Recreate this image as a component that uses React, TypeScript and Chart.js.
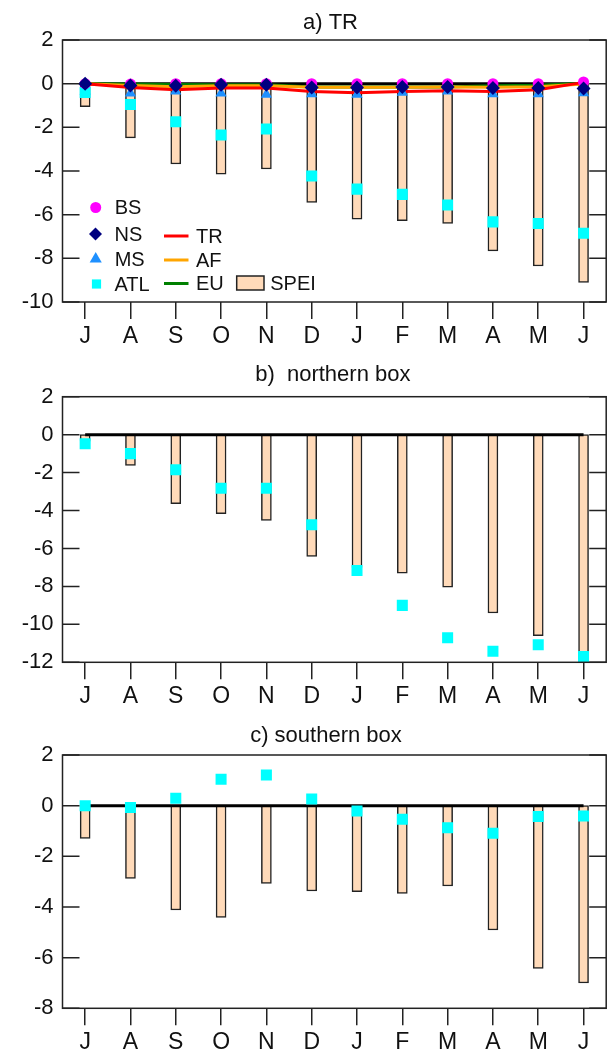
import React, { useEffect, useRef } from 'react';
import { Chart, registerables } from 'chart.js';
import { drawPoint } from 'chart.js/helpers';

Chart.register(...registerables);

const FONT = '"Liberation Sans", Arial, Helvetica, sans-serif';
Chart.defaults.font.family = FONT;

// ---------- data ----------
const months = ['J', 'A', 'S', 'O', 'N', 'D', 'J', 'F', 'M', 'A', 'M', 'J'];

// a) TR
const speiTR = [-1.05, -2.48, -3.68, -4.14, -3.91, -5.44, -6.21, -6.27, -6.4, -7.66, -8.35, -9.1];
const atlTR = [-0.4, -0.95, -1.74, -2.35, -2.08, -4.23, -4.83, -5.07, -5.56, -6.33, -6.4, -6.85];
const msTR = [-0.35, -0.44, -0.35, -0.44, -0.5, -0.47, -0.5, -0.4, -0.35, -0.47, -0.47, -0.43];
const nsTR = [0, -0.08, -0.1, -0.05, -0.05, -0.17, -0.17, -0.15, -0.15, -0.2, -0.2, -0.22];
const bsTR = [0, -0.02, 0, 0, 0, 0, 0, 0, 0, 0, 0, 0.08];
const trTR = [0, -0.18, -0.28, -0.2, -0.2, -0.36, -0.42, -0.36, -0.33, -0.36, -0.28, 0.06];
const afTR = [0, -0.08, -0.14, -0.1, -0.1, -0.16, -0.16, -0.16, -0.15, -0.16, -0.14, -0.02];
const euTR = [0, -0.02, -0.04, -0.05, -0.05, -0.15, -0.15, -0.15, -0.15, -0.1, -0.07, 0.02];

// b) northern box
const speiNorth = [-0.35, -1.62, -3.64, -4.17, -4.52, -6.42, -7.0, -7.3, -8.04, -9.4, -10.59, -11.85];
const atlNorth = [-0.48, -1.0, -1.85, -2.82, -2.82, -4.75, -7.16, -9.0, -10.71, -11.42, -11.08, -11.7];

// c) southern box
const speiSouth = [-1.29, -2.87, -4.12, -4.41, -3.07, -3.37, -3.4, -3.46, -3.17, -4.91, -6.43, -7.0];
const atlSouth = [0, -0.07, 0.29, 1.04, 1.21, 0.26, -0.21, -0.54, -0.87, -1.09, -0.43, -0.41];

// reference zero line
const zeroLine = [0, 0, 0, 0, 0, 0, 0, 0, 0, 0, 0, 0];

// ---------- styles ----------
const PEACH = '#FFDAB9';
const EDGE = '#222222';

const barDs = (data: number[]) => ({
  type: 'bar' as const,
  label: 'SPEI',
  data,
  backgroundColor: PEACH,
  borderColor: EDGE,
  borderWidth: 1.5,
  borderSkipped: false,
  barThickness: 10,
  order: 10,
});

const zeroDs = () => ({
  type: 'line' as const,
  label: 'zero',
  data: zeroLine,
  borderColor: '#000000',
  borderWidth: 3,
  pointRadius: 0,
  tension: 0,
  order: 9,
});

const lineDs = (label: string, data: number[], color: string, order: number) => ({
  type: 'line' as const,
  label,
  data,
  borderColor: color,
  backgroundColor: color,
  borderWidth: 3,
  pointRadius: 0,
  tension: 0,
  order,
});

const pointDs = (label: string, data: number[], color: string, style: string, radius: number, order: number) => ({
  type: 'line' as const,
  label,
  data,
  showLine: false,
  pointStyle: style,
  pointRadius: radius,
  pointBackgroundColor: color,
  pointBorderColor: color,
  pointBorderWidth: 0,
  borderColor: color,
  backgroundColor: color,
  order,
});

// ---------- plugins ----------
const framePlugin = {
  id: 'frame',
  afterDraw(chart: any, _args: any, opts: any) {
    const { ctx, chartArea } = chart;
    const { left, right, top, bottom } = chartArea;
    const y = chart.scales.y;
    const len = opts.tickLength ?? 17;
    ctx.save();
    ctx.strokeStyle = EDGE;
    ctx.lineWidth = 1.5;
    ctx.beginPath();
    y.ticks.forEach((t: any) => {
      const py = y.getPixelForValue(t.value);
      ctx.moveTo(left, py);
      ctx.lineTo(left + len, py);
      ctx.moveTo(right, py);
      ctx.lineTo(right - len, py);
    });
    ctx.stroke();
    ctx.strokeRect(left, top, right - left, bottom - top);
    ctx.restore();
  },
};

// panel title, placed by text centre x and baseline y
const panelTitlePlugin = {
  id: 'panelTitle',
  afterDraw(chart: any, _args: any, opts: any) {
    if (!opts || !opts.text) return;
    const { ctx } = chart;
    ctx.save();
    ctx.font = `${opts.fontSize}px ${FONT}`;
    ctx.fillStyle = '#111111';
    ctx.textAlign = 'center';
    ctx.textBaseline = 'alphabetic';
    ctx.fillText(opts.text, opts.x, opts.y);
    ctx.restore();
  },
};

const insetLegendPlugin = {
  id: 'insetLegend',
  afterDraw(chart: any, _args: any, opts: any) {
    if (!opts || !opts.items) return;
    const { ctx, chartArea } = chart;
    ctx.save();
    ctx.font = `${opts.fontSize}px ${FONT}`;
    ctx.textBaseline = 'middle';
    ctx.textAlign = 'left';
    for (const item of opts.items) {
      const ds = chart.data.datasets[item.index];
      const x = chartArea.left + item.x;
      const y = chartArea.top + item.y;
      let textX = x;
      if (item.kind === 'point') {
        ctx.fillStyle = ds.pointBackgroundColor;
        ctx.strokeStyle = ds.pointBorderColor;
        drawPoint(ctx, { pointStyle: ds.pointStyle, radius: item.radius, borderWidth: 0, rotation: 0 }, x, y);
        textX = x + item.textDx;
      } else if (item.kind === 'line') {
        ctx.strokeStyle = ds.borderColor;
        ctx.lineWidth = ds.borderWidth;
        ctx.beginPath();
        ctx.moveTo(x, y);
        ctx.lineTo(x + item.w, y);
        ctx.stroke();
        textX = x + item.textDx;
      } else {
        ctx.fillStyle = ds.backgroundColor;
        ctx.fillRect(x, y - item.h / 2, item.w, item.h);
        ctx.strokeStyle = ds.borderColor;
        ctx.lineWidth = ds.borderWidth;
        ctx.strokeRect(x, y - item.h / 2, item.w, item.h);
        textX = x + item.textDx;
      }
      ctx.fillStyle = '#111111';
      ctx.fillText(ds.label, textX, y + 1);
    }
    ctx.restore();
  },
};

// ---------- config builder ----------
type PanelSpec = {
  title: string;
  titleX: number;
  titleY: number;
  datasets: any[];
  min: number;
  max: number;
  height: number;
  plotTop: number;
  xHeight: number;
  legend?: any;
};

function buildConfig(p: PanelSpec): any {
  return {
    type: 'bar',
    data: { labels: months, datasets: p.datasets },
    plugins: [framePlugin, insetLegendPlugin, panelTitlePlugin],
    options: {
      responsive: false,
      animation: false,
      events: [],
      layout: { padding: { left: 0, right: 1.5, top: p.plotTop, bottom: 0 } },
      scales: {
        x: {
          type: 'category',
          offset: true,
          grid: {
            display: true,
            drawOnChartArea: false,
            drawTicks: true,
            tickLength: 17,
            color: EDGE,
            lineWidth: 1.5,
            offset: false,
          },
          border: { display: false },
          ticks: {
            autoSkip: false,
            maxRotation: 0,
            padding: 4,
            color: '#111111',
            font: { size: 23, family: FONT },
          },
          afterFit: (s: any) => {
            s.height = p.xHeight;
          },
        },
        y: {
          min: p.min,
          max: p.max,
          grid: { display: false, drawTicks: false },
          border: { display: false },
          ticks: {
            stepSize: 2,
            padding: 9,
            color: '#111111',
            font: { size: 22, family: FONT },
          },
          afterFit: (s: any) => {
            s.width = 62.5;
          },
        },
      },
      plugins: {
        legend: { display: false },
        tooltip: { enabled: false },
        title: { display: false },
        frame: { tickLength: 17 },
        panelTitle: { text: p.title, x: p.titleX, y: p.titleY, fontSize: 22 },
        insetLegend: p.legend ?? {},
      },
    },
  };
}

const panelA: PanelSpec = {
  title: 'a) TR',
  titleX: 330.5,
  titleY: 28.5,
  min: -10,
  max: 2,
  height: 350,
  plotTop: 40,
  xHeight: 48,
  datasets: [
    barDs(speiTR), // 0
    zeroDs(), // 1
    lineDs('EU', euTR, '#008000', 8), // 2
    lineDs('AF', afTR, '#FFA500', 7), // 3
    lineDs('TR', trTR, '#FF0000', 6), // 4
    pointDs('MS', msTR, '#1E90FF', 'triangle', 6.5, 5), // 5
    pointDs('ATL', atlTR, '#00FFFF', 'rect', 7.8, 4), // 6
    pointDs('BS', bsTR, '#FF00FF', 'circle', 5.5, 3), // 7
    pointDs('NS', nsTR, '#000080', 'rectRot', 7, 2), // 8
  ],
  legend: {
    fontSize: 20,
    items: [
      { index: 7, kind: 'point', x: 33.2, y: 167.5, radius: 5.5, textDx: 19 },
      { index: 8, kind: 'point', x: 33, y: 194, radius: 6.5, textDx: 19 },
      { index: 5, kind: 'point', x: 33.2, y: 219, radius: 7, textDx: 19 },
      { index: 6, kind: 'point', x: 34, y: 244, radius: 6.5, textDx: 18 },
      { index: 4, kind: 'line', x: 101.5, y: 196, w: 24.5, textDx: 32 },
      { index: 3, kind: 'line', x: 101.5, y: 220, w: 24.5, textDx: 32 },
      { index: 2, kind: 'line', x: 101.5, y: 243.5, w: 24.5, textDx: 32 },
      { index: 0, kind: 'box', x: 174.2, y: 243, w: 27.3, h: 14, textDx: 33.5 },
    ],
  },
};

const panelB: PanelSpec = {
  title: 'b)  northern box',
  titleX: 332.8,
  titleY: 30.5,
  min: -12,
  max: 2,
  height: 365,
  plotTop: 46.7,
  xHeight: 52.7,
  datasets: [barDs(speiNorth), zeroDs(), pointDs('ATL', atlNorth, '#00FFFF', 'rect', 7.8, 4)],
};

const panelC: PanelSpec = {
  title: 'c) southern box',
  titleX: 326,
  titleY: 26.5,
  min: -8,
  max: 2,
  height: 337,
  plotTop: 40,
  xHeight: 43.7,
  datasets: [barDs(speiSouth), zeroDs(), pointDs('ATL', atlSouth, '#00FFFF', 'rect', 7.8, 4)],
};

function Panel({ spec, top }: { spec: PanelSpec; top: number }) {
  const ref = useRef<HTMLCanvasElement | null>(null);
  useEffect(() => {
    const chart = new Chart(ref.current as HTMLCanvasElement, buildConfig(spec));
    return () => chart.destroy();
  }, [spec]);
  return (
    <div style={{ position: 'absolute', left: 0, top, width: 614, height: spec.height }}>
      <canvas ref={ref} width={614} height={spec.height} style={{ display: 'block', width: 614, height: spec.height }} />
    </div>
  );
}

export default function App() {
  return (
    <div style={{ position: 'absolute', left: 0, top: 0, width: 614, height: 1052, background: '#ffffff' }}>
      <Panel spec={panelA} top={0} />
      <Panel spec={panelB} top={350} />
      <Panel spec={panelC} top={715} />
    </div>
  );
}
